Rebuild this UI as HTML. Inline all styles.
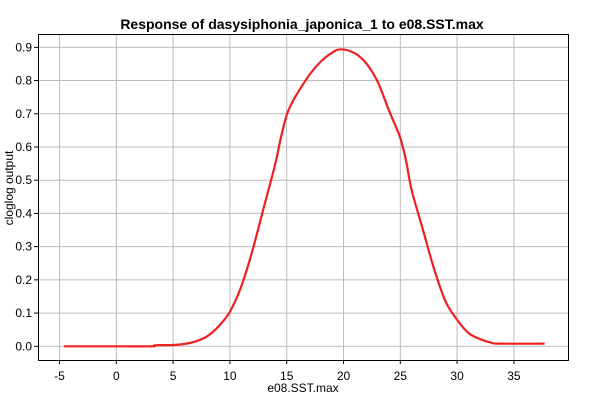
<!DOCTYPE html>
<html><head><meta charset="utf-8"><style>
body{margin:0;background:#fff;}
svg{display:block;font-family:"Liberation Sans",sans-serif;}
</style></head><body>
<svg id="chart" width="600" height="400">
<rect width="600" height="400" fill="#fff"/>
<text x="302" y="29" text-anchor="middle" font-size="14" font-weight="bold">Response of dasysiphonia_japonica_1 to e08.SST.max</text>
<text x="303" y="392" text-anchor="middle" font-size="12">e08.SST.max</text>
<text transform="translate(13,188) rotate(-90)" text-anchor="middle" font-size="12">cloglog output</text>
<g id="grid"></g><g id="axes"></g><g id="series"></g>
<rect x="38.5" y="34.5" width="530" height="326" fill="none" stroke="#000" stroke-width="1"/>
</svg>
<script>
const xTicks=[-5,0,5,10,15,20,25,30,35];
const yTicks=[0,0.1,0.2,0.3,0.4,0.5,0.6,0.7,0.8,0.9];
const yTickLabels=["0.0","0.1","0.2","0.3","0.4","0.5","0.6","0.7","0.8","0.9"];
const xs=[-4.6,0,3.2,3.4,5,6,7,8,9,10,11,12,13,14,14.5,15,15.5,16,17,18,19,19.8,21,22,23,24,24.5,25,25.5,26,27,28,29,30,31,32,33,33.7,37.7];
const ys=[0,0,0,0.003,0.004,0.007,0.015,0.03,0.06,0.104,0.18,0.29,0.42,0.55,0.63,0.696,0.735,0.765,0.817,0.857,0.884,0.894,0.882,0.852,0.797,0.71,0.67,0.627,0.56,0.47,0.35,0.23,0.134,0.08,0.04,0.022,0.011,0.008,0.008];
const X=v=>116.3+v*11.36;
const Y=v=>346.3-v*332.2;
const NS="http://www.w3.org/2000/svg";
const g=document.getElementById('grid'),a=document.getElementById('axes'),s=document.getElementById('series');
function mk(t,at,p){const e=document.createElementNS(NS,t);for(const k in at)e.setAttribute(k,at[k]);p.appendChild(e);return e;}
xTicks.forEach(v=>{
 const l=mk('line',{x1:X(v),x2:X(v),y1:35,y2:360,stroke:'#bbb'},g);
 
 
 const tk=mk('line',{x1:X(v),x2:X(v),y1:360,y2:364,stroke:'#000'},a);
 
 
 const t=mk('text',{x:X(v),y:380,'text-anchor':'middle','font-size':12},a);t.textContent=v;
 
 
});
yTicks.forEach((v,i)=>{
 const l=mk('line',{x1:38,x2:568,y1:Y(v),y2:Y(v),stroke:'#bbb'},g);
 
 
 const tk=mk('line',{x1:34,x2:38,y1:Y(v),y2:Y(v),stroke:'#000'},a);
 
 
 const t=mk('text',{x:32,y:Y(v)+4,'text-anchor':'end','font-size':12},a);t.textContent=yTickLabels[i];
 
 
});
const P=xs.map((v,i)=>[X(v),Y(ys[i])]);
let d='M'+P[0][0]+','+P[0][1];
for(let i=0;i<P.length-1;i++){
 const p0=P[Math.max(0,i-1)],p1=P[i],p2=P[i+1],p3=P[Math.min(P.length-1,i+2)];
 const c1=[p1[0]+(p2[0]-p0[0])/6,p1[1]+(p2[1]-p0[1])/6];
 const c2=[p2[0]-(p3[0]-p1[0])/6,p2[1]-(p3[1]-p1[1])/6];
 d+=' C'+c1[0]+','+c1[1]+' '+c2[0]+','+c2[1]+' '+p2[0]+','+p2[1];
}
const pl=mk('path',{d:d,fill:'none',stroke:'#f02020','stroke-width':2.2,'stroke-linejoin':'round'},s);


</script>
</body></html>
